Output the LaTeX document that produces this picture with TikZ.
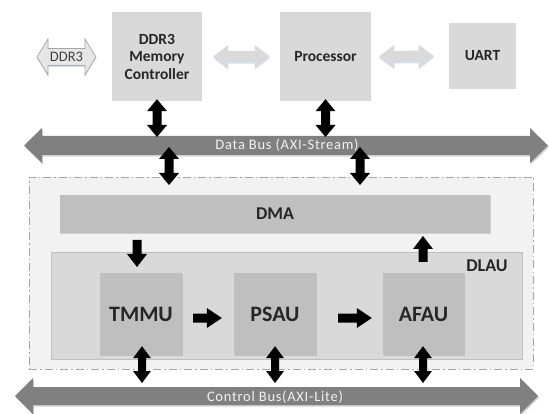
\documentclass[tikz,border=0pt]{standalone}
\usepackage{fontspec}
\setmainfont{Carlito}
\newfontfamily\busfont[LetterSpace=5]{Carlito}
\usetikzlibrary{calc,shadows}

\definecolor{boxlight}{HTML}{D9D9D9}
\definecolor{boxmid}{HTML}{BFBFBF}
\definecolor{framefill}{HTML}{F2F2F2}
\definecolor{framedraw}{HTML}{A6A6A6}
\definecolor{busgray}{HTML}{808080}
\definecolor{labeltext}{HTML}{262626}
\definecolor{linkgray}{HTML}{DADADA}
\definecolor{glow}{HTML}{C6DAF0}
\definecolor{ddrfill}{HTML}{E6E6E6}
\definecolor{ddrtext}{HTML}{404040}

% block arrow with two heads: style, from, to, shaft half-width, head half-width, head length
\newcommand\blockdouble[6]{%
  \path[#1] (#2)
    -- ($(#2)!#6!(#3)!#5!90:(#3)$)
    -- ($(#2)!#6!(#3)!#4!90:(#3)$)
    -- ($(#3)!#6!(#2)!#4!90:(#3)$)
    -- ($(#3)!#6!(#2)!#5!90:(#3)$)
    -- (#3)
    -- ($(#3)!#6!(#2)!#5!-90:(#3)$)
    -- ($(#3)!#6!(#2)!#4!-90:(#3)$)
    -- ($(#2)!#6!(#3)!#4!-90:(#3)$)
    -- ($(#2)!#6!(#3)!#5!-90:(#3)$)
    -- cycle;}
% block arrow with one head at the second point
\newcommand\blocksingle[6]{%
  \path[#1] ($(#2)!#4!90:(#3)$)
    -- ($(#3)!#6!(#2)!#4!90:(#3)$)
    -- ($(#3)!#6!(#2)!#5!90:(#3)$)
    -- (#3)
    -- ($(#3)!#6!(#2)!#5!-90:(#3)$)
    -- ($(#3)!#6!(#2)!#4!-90:(#3)$)
    -- ($(#2)!#4!-90:(#3)$)
    -- cycle;}

\tikzset{
  topbox/.style={fill=boxlight, text=labeltext, align=center, inner sep=0pt,
    font=\fontsize{15.5}{17.5}\selectfont\bfseries},
  unitbox/.style={fill=boxmid, text=labeltext, inner sep=0pt,
    minimum width=82pt, minimum height=82pt,
    font=\fontsize{22}{26}\selectfont\bfseries,
    drop shadow={shadow xshift=1.3pt, shadow yshift=-1.3pt, opacity=.3}},
  dmabox/.style={fill=boxmid, text=labeltext, inner sep=0pt,
    font=\fontsize{18}{21}\selectfont\bfseries,
    drop shadow={shadow xshift=1.3pt, shadow yshift=-1.3pt, opacity=.3}},
  dlaubox/.style={fill=boxlight, draw=boxmid, line width=.8pt, inner sep=0pt},
  groupframe/.style={fill=framefill, draw=framedraw, line width=.6pt,
    dash pattern=on 8pt off 3pt on 1.5pt off 3pt, inner sep=0pt},
  biglabel/.style={text=labeltext, font=\fontsize{18}{21}\selectfont\bfseries},
  buslabel/.style={text=framefill, font=\busfont\fontsize{14.5}{16}\selectfont},
  busarrow/.style={fill=busgray,
    drop shadow={shadow xshift=1pt, shadow yshift=-1.6pt, opacity=.35}},
  blackarrow/.style={fill=black},
  linkarrow/.style={fill=linkgray,
    drop shadow={fill=glow, shadow xshift=0pt, shadow yshift=-1.6pt, opacity=.8}},
  ddrarrow/.style={fill=ddrfill, draw=framedraw, line width=.7pt, line join=miter,
    drop shadow={fill=glow, shadow xshift=0pt, shadow yshift=-1.4pt, opacity=.7}},
}

\begin{document}
\begin{tikzpicture}[x=1pt, y=-1pt]
\useasboundingbox[fill=white] (0,0) rectangle (549,414);

% top row: memory controller, processor and UART
\node[topbox, minimum width=90pt, minimum height=89pt] (dmc) at (157,56.5) {DDR3\\Memory\\Controller};
\node[topbox, minimum width=91pt, minimum height=89pt] (proc) at (325.5,56.5) {Processor};
\node[topbox, minimum width=67pt, minimum height=66pt] (uart) at (482.5,56) {UART};

% external DDR3 interface
\coordinate (ddrL) at (37,57);
\coordinate (ddrR) at (96,57);
\blockdouble{ddrarrow}{ddrL}{ddrR}{8.5pt}{18pt}{11pt}
\node[text=ddrtext, font=\fontsize{14.5}{16}\selectfont] (ddrlabel) at (66.5,57) {DDR3};

% light links between the top blocks
\coordinate (lkA) at ($(dmc.east)+(11,0)$);
\coordinate (lkB) at ($(proc.west)+(-10,0)$);
\coordinate (lkC) at ($(proc.east)+(8,0)$);
\coordinate (lkD) at ($(uart.west)+(-15,0)$);
\blockdouble{linkarrow}{lkA}{lkB}{5.5pt}{11.5pt}{15pt}
\blockdouble{linkarrow}{lkC}{lkD}{5.5pt}{11.5pt}{15pt}

% accelerator group
\node[groupframe, minimum width=504pt, minimum height=192pt] (group) at (281,273) {};
\node[dmabox, minimum width=430pt, minimum height=38pt] (dma) at (275,214) {DMA};
\node[dlaubox, minimum width=471pt, minimum height=107pt] (dlau) at (286.5,305.5) {};
\node[biglabel] (dlaulabel) at (487,266) {DLAU};
\node[unitbox] (tmmu) at (141,314) {TMMU};
\node[unitbox] (psau) at (275,314) {PSAU};
\node[unitbox, minimum width=81pt] (afau) at (423.5,314) {AFAU};

% buses
\coordinate (dbL) at (24,145.5);
\coordinate (dbR) at (548,145.5);
\blockdouble{busarrow}{dbL}{dbR}{9.5pt}{17.5pt}{18pt}
\node[buslabel] (dblabel) at (287,145) {Data Bus (AXI-Stream)};

\coordinate (cbL) at (15,396);
\coordinate (cbR) at (538,396);
\blockdouble{busarrow}{cbL}{cbR}{9pt}{18pt}{18pt}
\node[buslabel] (cblabel) at (275,397) {Control Bus(AXI-Lite)};

% data bus connections
\coordinate (mcTop) at ($(dmc.south)+(0,-2)$);
\coordinate (mcBus) at (157,137);
\blockdouble{blackarrow}{mcTop}{mcBus}{4.5pt}{10pt}{12pt}
\coordinate (prTop) at ($(proc.south)+(0,-2)$);
\coordinate (prBus) at (325.5,137);
\blockdouble{blackarrow}{prTop}{prBus}{4.5pt}{10pt}{12pt}
\coordinate (gA1) at (169,147);
\coordinate (gA2) at (169,185);
\blockdouble{blackarrow}{gA1}{gA2}{4.5pt}{10pt}{12pt}
\coordinate (gB1) at (360,147);
\coordinate (gB2) at (360,185);
\blockdouble{blackarrow}{gB1}{gB2}{4.5pt}{10pt}{12pt}

% DMA to and from the accelerator
\coordinate (dmaOut) at (137,240);
\coordinate (tmIn) at (137,267);
\blocksingle{blackarrow}{dmaOut}{tmIn}{4.5pt}{10pt}{13pt}
\coordinate (afOut) at (423,262);
\coordinate (dmaIn) at (423,236);
\blocksingle{blackarrow}{afOut}{dmaIn}{4.5pt}{10pt}{13pt}

% pipeline between the units
\coordinate (p1) at ($(tmmu.east)+(11,4)$);
\coordinate (p2) at ($(psau.west)+(-12,4)$);
\blocksingle{blackarrow}{p1}{p2}{4.5pt}{10pt}{15pt}
\coordinate (p3) at ($(psau.east)+(22,4)$);
\coordinate (p4) at ($(afau.west)+(-11,4)$);
\blocksingle{blackarrow}{p3}{p4}{4.5pt}{10pt}{15pt}

% control bus connections
\coordinate (tmB) at ($(tmmu.south)+(1,-9)$);
\coordinate (tmC) at (142,383);
\blockdouble{blackarrow}{tmB}{tmC}{4pt}{9pt}{12pt}
\coordinate (psB) at ($(psau.south)+(0,-9)$);
\coordinate (psC) at (275,383);
\blockdouble{blackarrow}{psB}{psC}{4pt}{9pt}{12pt}
\coordinate (afB) at ($(afau.south)+(-0.5,-9)$);
\coordinate (afC) at (423,383);
\blockdouble{blackarrow}{afB}{afC}{4pt}{9pt}{12pt}
\end{tikzpicture}
\end{document}
